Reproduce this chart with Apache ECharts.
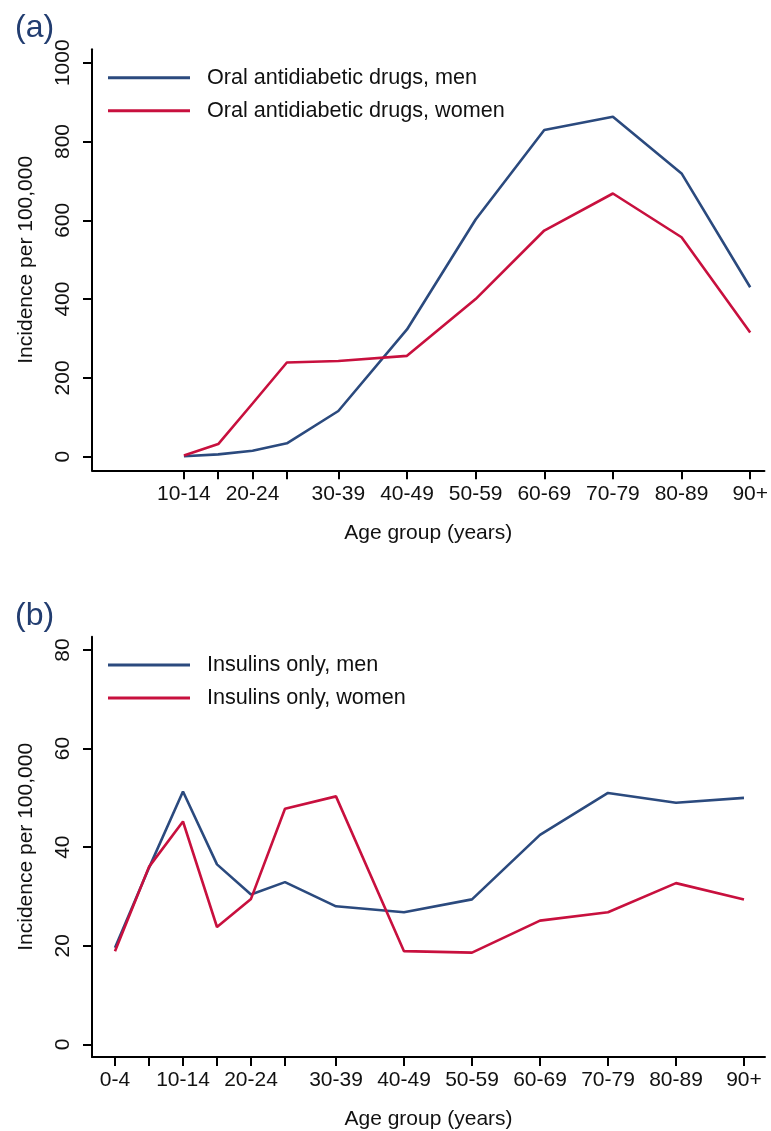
<!DOCTYPE html>
<html>
<head>
<meta charset="utf-8">
<script src="https://cdn.jsdelivr.net/npm/echarts@6/dist/echarts.min.js"></script>
<style>
html,body{margin:0;padding:0;background:#fff;}
#c{width:771px;height:1131px;}
</style>
</head>
<body>
<div id="c"></div>
<script>
// Age groups and their positions (group midpoints, years)
const ageLabels = ["0-4","5-9","10-14","15-19","20-24","25-29","30-39","40-49","50-59","60-69","70-79","80-89","90+"];
const ageMid = [2,7,12,17,22,27,34.5,44.5,54.5,64.5,74.5,84.5,94.5];

// Panel (a): oral antidiabetic drugs, incidence per 100,000
const oralMen   = [null,null,1,6,15,34,116,323,602,829,863,719,430];
const oralWomen = [null,null,3,32,135,239,243,256,400,574,668,557,315];

// Panel (b): insulins only, incidence per 100,000
const insMen   = [19.6,35.8,51.3,36.5,30.4,32.9,28.0,26.8,29.4,42.5,51.0,49.0,50.0];
const insWomen = [18.9,36.0,45.2,23.8,29.5,47.8,50.3,18.9,18.6,25.1,26.8,32.7,29.4];

// Tick labels
const yTicksA = [0,200,400,600,800,1000];
const yTicksB = [0,20,40,60,80];
const xLabelsA = ["10-14","20-24","30-39","40-49","50-59","60-69","70-79","80-89","90+"];
const xLabelsB = ["0-4","10-14","20-24","30-39","40-49","50-59","60-69","70-79","80-89","90+"];
const xTicksA = ageLabels.slice(2);
const xTicksB = ageLabels.slice();

const BLUE = '#2b4a7e';
const RED = '#c8103e';
const FONT = 'Liberation Sans, Arial, Helvetica, sans-serif';

function pos(lbl){ return ageMid[ageLabels.indexOf(lbl)]; }
function toPts(vals){
  const out = [];
  vals.forEach((v,i)=>{ if(v!==null) out.push([ageMid[i], v]); });
  return out;
}
function labelFor(v){
  for(let i=0;i<ageMid.length;i++){ if(Math.abs(ageMid[i]-v)<1e-6) return ageLabels[i]; }
  return '';
}

function xAxis(gridIndex, min, max, ticks, labels){
  return {
    type:'value', gridIndex, min, max,
    name:'Age group (years)', nameLocation:'middle', nameGap:52,
    nameTextStyle:{fontSize:21, color:'#111', fontFamily:FONT},
    splitLine:{show:false},
    axisLine:{show:true, onZero:false, lineStyle:{color:'#000', width:2}},
    axisTick:{show:true, length:9, lineStyle:{color:'#000', width:2}, customValues: ticks.map(pos)},
    axisLabel:{fontSize:21, color:'#111', fontFamily:FONT, margin:13,
      customValues: labels.map(pos), formatter: v => labelFor(v)}
  };
}
function yAxis(gridIndex, min, max, ticks){
  return {
    type:'value', gridIndex, min, max,
    name:'Incidence per 100,000', nameLocation:'middle', nameGap:55, nameRotate:90,
    nameTextStyle:{fontSize:21, color:'#111', fontFamily:FONT},
    splitLine:{show:false},
    axisLine:{show:true, onZero:false, lineStyle:{color:'#000', width:2}},
    axisTick:{show:true, length:9, lineStyle:{color:'#000', width:2}, customValues: ticks},
    axisLabel:{fontSize:21, color:'#111', fontFamily:FONT, margin:18, rotate:90,
      customValues: ticks, formatter: v => String(v)}
  };
}
function line(name, data, color, xi, yi){
  return {
    type:'line', name, data: toPts(data), xAxisIndex:xi, yAxisIndex:yi,
    showSymbol:false, symbol:'none', animation:false,
    lineStyle:{color, width:2.6}, itemStyle:{color}
  };
}
function legend(names, top){
  return {
    data: names, left:103, top, orient:'vertical', selectedMode:false,
    icon:'rect', itemWidth:82, itemHeight:3, itemGap:9,
    textStyle:{fontSize:21.6, color:'#111', fontFamily:FONT, lineHeight:24, padding:[0,0,0,12]}
  };
}

const chart = echarts.init(document.getElementById('c'), null, {renderer:'canvas'});
chart.setOption({
  animation:false,
  backgroundColor:'#fff',
  title:[
    {text:'(a)', left:10, top:7, textStyle:{fontSize:32, fontWeight:'normal', color:'#223d70', fontFamily:FONT}},
    {text:'(b)', left:10, top:595, textStyle:{fontSize:32, fontWeight:'normal', color:'#223d70', fontFamily:FONT}}
  ],
  grid:[
    {left:92, right:6, top:49.3, height:421},
    {left:92, right:6, top:636.7, height:421}
  ],
  xAxis:[
    xAxis(0, -1.39, 96.58, xTicksA, xLabelsA),
    xAxis(1, -1.38, 97.59, xTicksB, xLabelsB)
  ],
  yAxis:[
    yAxis(0, -34.5, 1034, yTicksA),
    yAxis(1, -2.57, 82.69, yTicksB)
  ],
  legend:[
    legend(['Oral antidiabetic drugs, men','Oral antidiabetic drugs, women'], 60.7),
    legend(['Insulins only, men','Insulins only, women'], 648)
  ],
  series:[
    line('Oral antidiabetic drugs, men', oralMen, BLUE, 0, 0),
    line('Oral antidiabetic drugs, women', oralWomen, RED, 0, 0),
    line('Insulins only, men', insMen, BLUE, 1, 1),
    line('Insulins only, women', insWomen, RED, 1, 1)
  ]
});
</script>
</body>
</html>
